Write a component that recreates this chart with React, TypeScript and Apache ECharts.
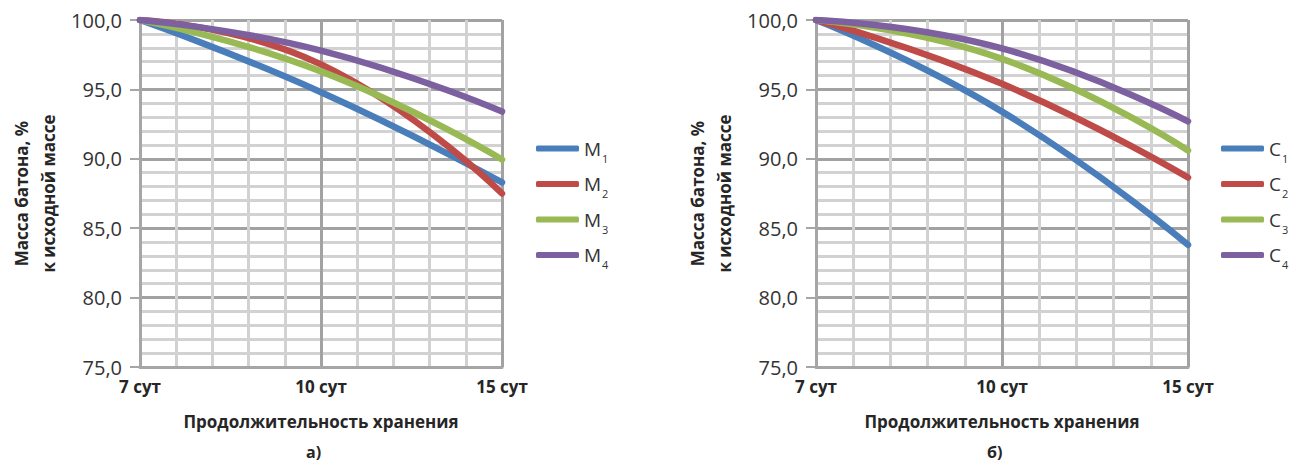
import React, { useEffect, useRef } from "react";
import * as echarts from "echarts";

const categories = ["7 сут", "10 сут", "15 сут"];
const yTicks = [75, 80, 85, 90, 95, 100];

const seriesNamesA = ["М1", "М2", "М3", "М4"];
const m1 = [100, 94.8, 88.3];
const m2 = [100, 96.8, 87.5];
const m3 = [100, 96.3, 89.95];
const m4 = [100, 97.8, 93.4];

const seriesNamesB = ["С1", "С2", "С3", "С4"];
const c1 = [100, 93.4, 83.8];
const c2 = [100, 95.4, 88.65];
const c3 = [100, 97.2, 90.6];
const c4 = [100, 97.95, 92.7];

const colors = ["#4a7ebb", "#be4b48", "#98b954", "#7d60a0"];

const FONT = "Open Sans";
const TEXT = "#333333";
const MAJOR = "#a2a2a2";
const MINOR = "#d2d2d2";

function xAxis(gridIndex: number) {
  return {
    type: "value",
    gridIndex,
    min: 0,
    max: categories.length - 1,
    interval: 1,
    name: "Продолжительность хранения",
    nameLocation: "middle",
    nameGap: 46,
    nameTextStyle: { fontFamily: FONT, fontWeight: "bold", fontSize: 17, color: "#262626" },
    axisLine: { show: true, lineStyle: { color: "#a6a6a6", width: 3 } },
    axisTick: { show: false },
    minorTick: { show: false, splitNumber: 5 },
    axisLabel: {
      margin: 11,
      fontFamily: FONT,
      fontWeight: "bold",
      fontSize: 17,
      color: "#262626",
      formatter: (v: number) => categories[Math.round(v)] ?? "",
    },
    splitLine: { show: true, lineStyle: { color: MAJOR, width: 3 } },
    minorSplitLine: { show: true, lineStyle: { color: MINOR, width: 3 } },
  };
}

function yAxis(gridIndex: number) {
  return {
    type: "value",
    gridIndex,
    min: yTicks[0],
    max: yTicks[yTicks.length - 1],
    interval: yTicks[1] - yTicks[0],
    name: "Масса батона, %\nк исходной массе",
    nameLocation: "middle",
    nameGap: 78,
    nameTextStyle: {
      fontFamily: FONT,
      fontWeight: "bold",
      fontSize: 17,
      lineHeight: 27,
      color: "#262626",
    },
    axisLine: { show: true, lineStyle: { color: "#a6a6a6", width: 3 } },
    axisTick: { show: true, inside: false, length: 10, lineStyle: { color: "#a6a6a6", width: 2 } },
    minorTick: { show: false, splitNumber: 5 },
    axisLabel: {
      margin: 18,
      fontFamily: FONT,
      fontSize: 20,
      color: TEXT,
      formatter: (v: number) => v.toFixed(1).replace(".", ","),
    },
    splitLine: { show: true, lineStyle: { color: MAJOR, width: 3 } },
    minorSplitLine: { show: true, lineStyle: { color: MINOR, width: 3 } },
  };
}

function lineSeries(name: string, values: number[], idx: number, color: string) {
  return {
    type: "line",
    name,
    xAxisIndex: idx,
    yAxisIndex: idx,
    data: values.map((v, i) => [i, v]),
    smooth: 0.5,
    symbol: "none",
    color,
    lineStyle: { width: 6.5, color, cap: "round" },
    z: 5,
  };
}

function legend(names: string[], left: number, gap: number) {
  return {
    orient: "vertical",
    left,
    top: 134,
    data: names,
    icon: "roundRect",
    itemWidth: 43,
    itemHeight: 6,
    itemGap: 11,
    itemTextGap: gap,
    formatter: (n: string) => `{m|${n.slice(0, 1)}}{s|${n.slice(1)}}`,
    textStyle: {
      overflow: "none",
      rich: {
        m: { fontFamily: FONT, fontSize: 19, lineHeight: 30, color: TEXT },
        s: {
          fontFamily: FONT,
          fontSize: 11,
          lineHeight: 13,
          verticalAlign: "bottom",
          color: TEXT,
          padding: [0, 0, 0, 1],
        },
      },
    },
  };
}

export default function App() {
  const ref = useRef<HTMLDivElement>(null);
  useEffect(() => {
    if (!ref.current) return;
    const chart = echarts.init(ref.current, undefined, { renderer: "svg" });
    const seriesA = [m1, m2, m3, m4].map((d, i) => lineSeries(seriesNamesA[i], d, 0, colors[i]));
    const seriesB = [c1, c2, c3, c4].map((d, i) => lineSeries(seriesNamesB[i], d, 1, colors[i]));
    chart.setOption({
      animation: false,
      backgroundColor: "#ffffff",
      grid: [
        { left: 140, top: 20, width: 362, height: 347 },
        { left: 816, top: 20, width: 372, height: 347 },
      ],
      xAxis: [xAxis(0), xAxis(1)],
      yAxis: [yAxis(0), yAxis(1)],
      legend: [legend(seriesNamesA, 531, 17), legend(seriesNamesB, 1216, 13)],
      series: [...seriesA, ...seriesB],
      graphic: [
        {
          type: "text",
          left: 306,
          top: 444,
          style: { text: "а)", fontFamily: FONT, fontWeight: "bold", fontSize: 16, fill: "#262626" },
        },
        {
          type: "text",
          left: 987,
          top: 444,
          style: { text: "б)", fontFamily: FONT, fontWeight: "bold", fontSize: 16, fill: "#262626" },
        },
      ],
    });
    return () => chart.dispose();
  }, []);
  return (
    <div
      ref={ref}
      style={{ position: "absolute", left: 0, top: 0, width: 1297, height: 466 }}
    />
  );
}
